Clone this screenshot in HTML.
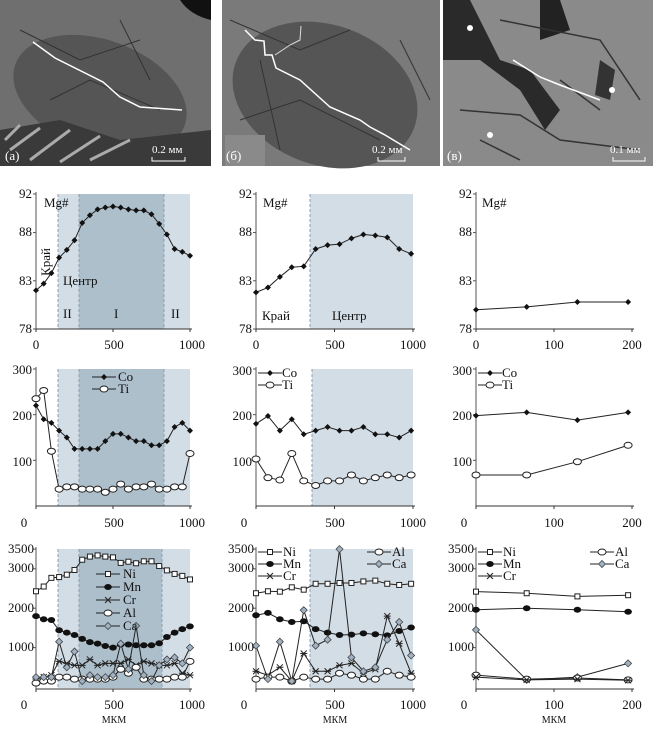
<!DOCTYPE html>
<html><head><meta charset="utf-8">
<style>
html,body{margin:0;padding:0;background:#fff;}
svg{display:block;font-family:"Liberation Serif",serif;}
</style></head>
<body>
<svg id="s" width="653" height="731" viewBox="0 0 653 731" xmlns="http://www.w3.org/2000/svg">
<!-- photos -->
<g>
<rect x="0" y="0" width="211" height="166" fill="#6f6f6f"/>
<ellipse cx="100" cy="95" rx="90" ry="55" fill="#555" transform="rotate(20 100 95)"/>
<path d="M0 130 L60 120 L120 140 L211 130 L211 166 L0 166Z" fill="#3a3a3a"/>
<path d="M10 150 L40 128 M30 160 L70 130 M60 162 L100 136 M90 160 L130 140 M5 140 L20 125" stroke="#aaa" stroke-width="3"/>
<path d="M180 0 L211 0 L211 20 Q190 15 180 0Z" fill="#111"/>
<path d="M20 30 L80 60 L140 40 M50 100 L90 80 L160 110 M120 20 L150 80" stroke="#333" fill="none"/>
<polyline points="33,42 55,58 103,82 120,97 140,107 182,110" fill="none" stroke="#fff" stroke-width="1.5"/>
<text x="5" y="160" font-size="13" fill="#fff">(а)</text>
<text x="152" y="153" font-size="11" fill="#fff">0.2 мм</text>
<path d="M152 157 V161 H185 V157" stroke="#fff" fill="none"/>

<rect x="222" y="0" width="218" height="166" fill="#7a7a7a"/>
<ellipse cx="325" cy="95" rx="95" ry="70" fill="#555" transform="rotate(20 325 95)"/>
<path d="M230 20 L300 50 L350 30 M240 120 L300 100 L380 140 M260 60 L280 150 M400 40 L430 100" stroke="#333" fill="none"/>
<rect x="225" y="135" width="40" height="31" fill="#8a8a8a"/>
<polyline points="245,30 255,40 264,41 265,55 272,55 276,68 300,80 330,107 360,120 370,127 385,135 410,150" fill="none" stroke="#fff" stroke-width="1.5"/>
<polyline points="275,55 290,45 300,40 301,26" fill="none" stroke="#ddd" stroke-width="1"/>
<text x="226" y="160" font-size="13" fill="#fff">(б)</text>
<text x="372" y="153" font-size="11" fill="#fff">0.2 мм</text>
<path d="M378 157 V161 H405 V157" stroke="#fff" fill="none"/>

<rect x="443" y="0" width="210" height="166" fill="#8a8a8a"/>
<path d="M443 0 L470 0 L500 60 L530 70 L560 110 L545 130 L520 90 L480 60 L443 60Z" fill="#2a2a2a"/>
<path d="M540 0 L560 0 L570 30 L540 40Z" fill="#222"/>
<path d="M600 60 L615 70 L610 100 L595 95Z" fill="#333"/>
<path d="M460 110 L520 115 L560 140 L640 150 M500 20 L600 40 L640 100 M560 80 L600 110 M480 140 L520 160" stroke="#333" fill="none" stroke-width="1.5"/>
<polyline points="513,60 540,77 560,85 600,100" fill="none" stroke="#fff" stroke-width="1.5"/>
<circle cx="470" cy="28" r="3" fill="#fff"/><circle cx="612" cy="90" r="3" fill="#fff"/><circle cx="490" cy="135" r="3" fill="#fff"/>
<text x="447" y="160" font-size="13" fill="#fff">(в)</text>
<text x="610" y="153" font-size="11" fill="#fff">0.1 мм</text>
<path d="M613 157 V161 H645 V157" stroke="#fff" fill="none"/>
</g>

<!-- shading -->
<g>
<rect x="58" y="194" width="132" height="135" fill="#d3dde6"/>
<rect x="79" y="194" width="85" height="135" fill="#aebfcc"/>
<line x1="58" y1="194" x2="58" y2="329" stroke="#8aa0b2" stroke-dasharray="3,2"/>
<line x1="79" y1="194" x2="79" y2="329" stroke="#8aa0b2" stroke-dasharray="3,2"/>
<line x1="164" y1="194" x2="164" y2="329" stroke="#8aa0b2" stroke-dasharray="3,2"/>
<rect x="58" y="369" width="132" height="137" fill="#d3dde6"/>
<rect x="79" y="369" width="85" height="137" fill="#aebfcc"/>
<line x1="58" y1="369" x2="58" y2="506" stroke="#8aa0b2" stroke-dasharray="3,2"/>
<line x1="79" y1="369" x2="79" y2="506" stroke="#8aa0b2" stroke-dasharray="3,2"/>
<line x1="164" y1="369" x2="164" y2="506" stroke="#8aa0b2" stroke-dasharray="3,2"/>
<rect x="58" y="549" width="132" height="139" fill="#d3dde6"/>
<rect x="79" y="549" width="83" height="139" fill="#aebfcc"/>
<line x1="58" y1="549" x2="58" y2="688" stroke="#8aa0b2" stroke-dasharray="3,2"/>
<line x1="79" y1="549" x2="79" y2="688" stroke="#8aa0b2" stroke-dasharray="3,2"/>
<line x1="162" y1="549" x2="162" y2="688" stroke="#8aa0b2" stroke-dasharray="3,2"/>

<rect x="310" y="194" width="103" height="135" fill="#d3dde6"/>
<line x1="310" y1="194" x2="310" y2="329" stroke="#8aa0b2" stroke-dasharray="3,2"/>
<rect x="312" y="369" width="101" height="137" fill="#d3dde6"/>
<line x1="312" y1="369" x2="312" y2="506" stroke="#8aa0b2" stroke-dasharray="3,2"/>
<rect x="310" y="549" width="103" height="139" fill="#d3dde6"/>
<line x1="310" y1="549" x2="310" y2="688" stroke="#8aa0b2" stroke-dasharray="3,2"/>
</g>

<g id="axes" stroke="#333" stroke-width="1" fill="none"></g>
<g id="data"></g>

<!-- tick labels -->
<g font-size="13" fill="#111" text-anchor="end">
<text x="32" y="198">92</text><text x="32" y="236">88</text><text x="32" y="285">83</text><text x="32" y="333">78</text>
<text x="252" y="198">92</text><text x="252" y="236">88</text><text x="252" y="285">83</text><text x="252" y="333">78</text>
<text x="472" y="198">92</text><text x="472" y="236">88</text><text x="472" y="285">83</text><text x="472" y="333">78</text>
<text x="32" y="374">300</text><text x="32" y="420">200</text><text x="32" y="466">100</text>
<text x="252" y="375">300</text><text x="252" y="420">200</text><text x="252" y="466">100</text>
<text x="472" y="375">300</text><text x="472" y="420">200</text><text x="472" y="466">100</text>
<text x="34" y="553">3500</text><text x="34" y="572">3000</text><text x="34" y="612">2000</text><text x="34" y="651">1000</text>
<text x="254" y="553">3500</text><text x="254" y="572">3000</text><text x="254" y="612">2000</text><text x="254" y="651">1000</text>
<text x="474" y="553">3500</text><text x="474" y="572">3000</text><text x="474" y="612">2000</text><text x="474" y="651">1000</text>
</g>
<g font-size="13" fill="#111" text-anchor="middle">
<text x="36" y="349">0</text><text x="114" y="349">500</text><text x="192" y="349">1000</text>
<text x="256" y="349">0</text><text x="335" y="349">500</text><text x="413" y="349">1000</text>
<text x="476" y="349">0</text><text x="554" y="349">100</text><text x="632" y="349">200</text>
<text x="24" y="527">0</text><text x="114" y="527">500</text><text x="192" y="527">1000</text>
<text x="244" y="527">0</text><text x="335" y="527">500</text><text x="413" y="527">1000</text>
<text x="464" y="527">0</text><text x="554" y="527">100</text><text x="632" y="527">200</text>
<text x="24" y="709">0</text><text x="114" y="709">500</text><text x="192" y="709">1000</text>
<text x="244" y="709">0</text><text x="335" y="709">500</text><text x="413" y="709">1000</text>
<text x="464" y="709">0</text><text x="554" y="709">100</text><text x="632" y="709">200</text>
<text x="114" y="723" font-size="10">МКМ</text><text x="335" y="723" font-size="10">МКМ</text><text x="554" y="723" font-size="10">МКМ</text>
</g>
<g font-size="13" fill="#111">
<text x="44" y="207">Mg#</text><text x="263" y="207">Mg#</text><text x="482" y="207">Mg#</text>
<text x="50" y="262" transform="rotate(-90 50 262)" text-anchor="middle">Край</text>
<text x="63" y="285">Центр</text>
<text x="63" y="318">II</text><text x="114" y="318">I</text><text x="171" y="318">II</text>
<text x="262" y="320">Край</text><text x="332" y="320">Центр</text>
</g>
<g font-size="13" fill="#111" id="leg"></g>
<g font-size="13" fill="#111">
<text x="118" y="381">Co</text><text x="118" y="393">Ti</text>
<text x="282" y="377">Co</text><text x="282" y="389">Ti</text>
<text x="502" y="377">Co</text><text x="502" y="389">Ti</text>
<text x="123" y="578">Ni</text><text x="123" y="591">Mn</text><text x="123" y="604">Cr</text><text x="123" y="617">Al</text><text x="123" y="630">Ca</text>
<text x="283" y="556">Ni</text><text x="283" y="568">Mn</text><text x="283" y="580">Cr</text><text x="392" y="556">Al</text><text x="392" y="568">Ca</text>
<text x="503" y="556">Ni</text><text x="503" y="568">Mn</text><text x="503" y="580">Cr</text><text x="615" y="556">Al</text><text x="615" y="568">Ca</text>
</g>
</svg>
<script>
var NS="http://www.w3.org/2000/svg";
var D=document.getElementById('data'),A=document.getElementById('axes');
function el(t,a,p){var e=document.createElementNS(NS,t);for(var k in a)e.setAttribute(k,a[k]);(p||D).appendChild(e);return e;}
var cols=[{x0:36,s:154/1000},{x0:256,s:157/1000},{x0:476,s:156/200}];
var rows=[{f:function(v){return 329-(v-78)*135/14},top:194,bot:329},{f:function(v){return 506-v*0.4567},top:369,bot:506},{f:function(v){return 687-v*0.0394},top:549,bot:689}];
var ticks=[[92,88,83,78],[300,200,100],[3500,3000,2000,1000]];
for(var c=0;c<3;c++)for(var r=0;r<3;r++){
 var x0=cols[c].x0,x1=x0+(c==2?156:(c==0?154:157)),R=rows[r];
 el('line',{x1:x0,y1:R.top-2,x2:x0,y2:R.bot,stroke:'#555'},A);
 el('line',{x1:x0,y1:R.bot,x2:x1+2,y2:R.bot,stroke:'#333'},A);
 ticks[r].forEach(function(t){var y=R.f(t);el('line',{x1:x0-3,y1:y,x2:x0,y2:y,stroke:'#555'},A);});
 [0,0.5,1].forEach(function(q){var x=x0+(x1-x0)*q;el('line',{x1:x,y1:R.bot,x2:x,y2:R.bot+3,stroke:'#333'},A);});
}
function mark(type,x,y,g){
 if(type=='d')el('path',{d:'M'+x+' '+(y-3)+'L'+(x+3)+' '+y+'L'+x+' '+(y+3)+'L'+(x-3)+' '+y+'Z',fill:'#111'},g);
 else if(type=='D')el('path',{d:'M'+x+' '+(y-3.5)+'L'+(x+3.5)+' '+y+'L'+x+' '+(y+3.5)+'L'+(x-3.5)+' '+y+'Z',fill:'#9fb2c4',stroke:'#444','stroke-width':0.8},g);
 else if(type=='o')el('ellipse',{cx:x,cy:y,rx:4,ry:3,fill:'#fff',stroke:'#222'},g);
 else if(type=='O')el('ellipse',{cx:x,cy:y,rx:3.8,ry:3,fill:'#111'},g);
 else if(type=='s')el('rect',{x:x-2.5,y:y-2.5,width:5,height:5,fill:'#fff',stroke:'#222'},g);
 else if(type=='x'){el('path',{d:'M'+(x-3)+' '+(y-3)+'L'+(x+3)+' '+(y+3)+'M'+(x+3)+' '+(y-3)+'L'+(x-3)+' '+(y+3)+'M'+(x-3.5)+' '+y+'L'+(x+3.5)+' '+y,stroke:'#222','stroke-width':1},g);}
}
function series(c,r,xs,vs,type){
 var C=cols[c],R=rows[r],pts=[];
 for(var i=0;i<vs.length;i++)pts.push([C.x0+xs[i]*C.s,R.f(vs[i])]);
 el('polyline',{points:pts.map(function(p){return p.join(',')}).join(' '),fill:'none',stroke:'#222','stroke-width':1});
 pts.forEach(function(p){mark(type,p[0],p[1]);});
}
var x1=[];for(var i=0;i<=20;i++)x1.push(i*50);
series(0,0,x1,[82,82.7,83.8,85.4,86.2,87.2,89,89.8,90.4,90.6,90.7,90.6,90.4,90.3,90.3,89.9,88.9,87.8,86.3,86,85.6],'d');
series(0,1,x1,[220,190,182,165,150,125,125,125,125,142,158,158,150,142,142,133,133,142,173,182,165],'d');
series(0,1,x1,[235,253,120,37,42,42,37,37,37,30,37,48,37,42,42,48,37,37,42,42,115],'o');
series(0,2,x1,[2430,2550,2770,2790,2850,2970,3230,3310,3340,3310,3290,3150,3180,3140,3190,3190,3070,2960,2870,2820,2730],'s');
series(0,2,x1,[1800,1720,1700,1440,1380,1320,1220,1140,1100,1040,1000,1080,1080,1060,1060,1060,1110,1270,1380,1470,1540],'O');
series(0,2,x1,[200,250,300,650,600,550,550,700,550,600,600,600,700,550,650,600,550,550,600,350,300],'x');
series(0,2,x1,[100,150,150,250,250,200,200,200,200,200,250,450,350,500,200,200,200,200,250,250,650],'o');
series(0,2,x1,[250,250,250,1150,500,900,150,300,250,250,300,1100,450,1550,300,150,550,700,750,600,1000],'D');
var x2=[];for(var i=0;i<14;i++)x2.push(i*76);
series(1,0,x2,[81.8,82.3,83.4,84.4,84.5,86.3,86.7,86.8,87.4,87.8,87.7,87.5,86.3,85.8],'d');
series(1,1,x2,[180,197,165,190,157,165,173,165,165,173,157,157,150,165],'d');
series(1,1,x2,[103,62,57,115,55,45,55,55,68,55,62,68,62,68],'o');
series(1,2,x2,[2380,2430,2420,2530,2470,2620,2620,2640,2640,2680,2700,2620,2590,2620],'s');
series(1,2,x2,[1820,1880,1720,1650,1670,1470,1380,1320,1330,1360,1340,1310,1420,1510],'O');
series(1,2,x2,[400,300,500,150,850,400,400,550,600,350,450,1800,1100,350],'x');
series(1,2,x2,[200,250,250,150,250,200,200,350,300,200,200,400,300,250],'o');
series(1,2,x2,[1050,200,1150,150,1950,1050,1200,3500,750,400,500,1200,1650,800],'D');
var x3=[0,65,130,195];
series(2,0,x3,[80,80.3,80.8,80.8],'d');
series(2,1,x3,[198,205,188,205],'d');
series(2,1,x3,[68,68,97,133],'o');
series(2,2,x3,[2420,2380,2300,2330],'s');
series(2,2,x3,[1960,2000,1960,1910],'O');
series(2,2,x3,[1450,180,250,600],'D');
series(2,2,x3,[300,200,230,180],'o');
series(2,2,x3,[250,180,200,170],'x');
// legends
var L=document.getElementById('leg');
function leg(x,y,t){el('line',{x1:x,y1:y,x2:x+24,y2:y,stroke:'#222'},L);mark(t,x+12,y,L);}
leg(92,377,'d');leg(92,389,'o');
leg(258,373,'d');leg(258,385,'o');
leg(478,373,'d');leg(478,385,'o');
leg(96,574,'s');leg(96,587,'O');leg(96,600,'x');leg(96,613,'o');leg(96,626,'D');
leg(258,552,'s');leg(258,564,'O');leg(258,576,'x');leg(367,552,'o');leg(367,564,'D');
leg(478,552,'s');leg(478,564,'O');leg(478,576,'x');leg(590,552,'o');leg(590,564,'D');
</script>
</body></html>
